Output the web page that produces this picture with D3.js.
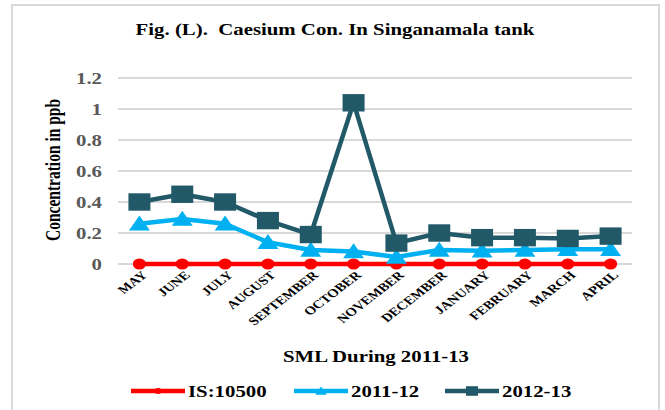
<!DOCTYPE html>
<html>
<head>
<meta charset="utf-8">
<script src="https://cdn.jsdelivr.net/npm/d3@7"></script>
<style>
  body { margin: 0; background: #fff; }
</style>
</head>
<body>
<script>
var months = ["MAY","JUNE","JULY","AUGUST","SEPTEMBER","OCTOBER","NOVEMBER","DECEMBER","JANUARY","FEBRUARY","MARCH","APRIL"];
var is10500 = [0,0,0,0,0,0,0,0,0,0,0,0];
var y2011 = [0.26,0.29,0.26,0.14,0.09,0.08,0.045,0.09,0.085,0.09,0.095,0.095];
var y2012 = [0.40,0.45,0.40,0.28,0.19,1.04,0.135,0.20,0.17,0.17,0.165,0.18];
var yTicks = [0,0.2,0.4,0.6,0.8,1,1.2];

var series = [
  {name: "IS:10500", values: is10500, color: "#ff0000", marker: "circle"},
  {name: "2011-12", values: y2011, color: "#00b0f0", marker: "triangle"},
  {name: "2012-13", values: y2012, color: "#215968", marker: "square"}
];

var serif = "Liberation Serif";
var stretchX = 1.3; // the picture is a little wider than tall
var width = 665, height = 410;
var svg = d3.select("body").append("svg")
  .attr("width", width)
  .attr("height", height);

// widen text horizontally to match
function stretch(sel, k) {
  sel.each(function() {
    var w = this.getComputedTextLength();
    d3.select(this).attr("textLength", w * k).attr("lengthAdjust", "spacingAndGlyphs");
  });
}

// outer frame
svg.append("rect")
  .attr("x", 12).attr("y", 5)
  .attr("width", 647).attr("height", 420)
  .attr("fill", "none")
  .attr("stroke", "#d9d9d9")
  .attr("stroke-width", 2);

var x = d3.scaleBand().domain(months).range([118, 632]);
var y = d3.scaleLinear().domain([0, 1.2]).range([264, 78]);
var cx = function(m) { return x(m) + x.bandwidth() / 2; };

// gridlines
svg.append("g").selectAll("line")
  .data(yTicks)
  .enter().append("line")
  .attr("x1", 118).attr("x2", 632)
  .attr("y1", function(d) { return y(d); })
  .attr("y2", function(d) { return y(d); })
  .attr("stroke", "#d9d9d9")
  .attr("stroke-width", 2);

// y axis labels
var yAxis = d3.axisLeft(y).tickValues(yTicks).tickSize(0).tickPadding(16)
  .tickFormat(function(d) { return String(+d.toFixed(1)); });
var yg = svg.append("g").attr("transform", "translate(118,0)").call(yAxis);
yg.select(".domain").remove();
yg.attr("font-family", serif).attr("font-size", 16).attr("font-weight", "bold");
yg.selectAll("text").attr("fill", "#595959").call(stretch, stretchX);

// x axis labels
var xg = svg.append("g").attr("transform", "translate(0,264)")
  .call(d3.axisBottom(x).tickSize(0).tickPadding(0));
xg.select(".domain").remove();
xg.attr("font-family", serif).attr("font-size", 11.5).attr("font-weight", "bold");
xg.selectAll("text")
  .attr("fill", "#000")
  .attr("text-anchor", "end")
  .attr("dy", "0.35em")
  .attr("y", 0)
  .attr("transform", "translate(5,9) scale(" + stretchX + ",1) rotate(-45)");

var line = d3.line()
  .x(function(d, i) { return cx(months[i]); })
  .y(function(d) { return y(d); });

function drawMarker(g, type, color, px, py, w, h) {
  if (type === "circle") {
    g.append("ellipse").attr("cx", px).attr("cy", py)
      .attr("rx", w * 0.6).attr("ry", h * 0.62).attr("fill", color);
  } else if (type === "triangle") {
    g.append("path")
      .attr("d", "M" + px + "," + (py - h * 0.55) + "L" + (px + w) + "," + (py + h * 0.45) +
        "L" + (px - w) + "," + (py + h * 0.45) + "Z")
      .attr("fill", color);
  } else {
    g.append("rect").attr("x", px - w).attr("y", py - h)
      .attr("width", 2 * w).attr("height", 2 * h).attr("fill", color);
  }
}

var markerSize = {circle: [11, 9], triangle: [10.5, 15], square: [11, 8.7]};

series.forEach(function(s) {
  var g = svg.append("g");
  g.append("path")
    .datum(s.values)
    .attr("d", line)
    .attr("fill", "none")
    .attr("stroke", s.color)
    .attr("stroke-width", 4.5)
    .attr("stroke-linejoin", "round");
  s.values.forEach(function(v, i) {
    var sz = markerSize[s.marker];
    drawMarker(g, s.marker, s.color, cx(months[i]), y(v), sz[0], sz[1]);
  });
});

function label(tx, ty, size, str) {
  return svg.append("text")
    .attr("x", tx).attr("y", ty)
    .attr("text-anchor", "middle")
    .attr("font-family", serif)
    .attr("font-weight", "bold")
    .attr("font-size", size)
    .text(str);
}

// title
label(335, 35, 16, "Fig. (L).\u00a0\u00a0Caesium Con. In Singanamala tank").call(stretch, stretchX);

// y axis title
label(0, 0, 15.5, "Concentration in ppb")
  .attr("transform", "translate(60,170) scale(" + stretchX + ",1) rotate(-90)");

// x axis title
label(376, 362, 16, "SML During 2011-13").call(stretch, stretchX);

// legend
var legendX = [131, 294, 445];
series.forEach(function(s, i) {
  var lg = svg.append("g").attr("transform", "translate(" + legendX[i] + ",391)");
  lg.append("line").attr("x1", 0).attr("x2", 54).attr("y1", 0).attr("y2", 0)
    .attr("stroke", s.color).attr("stroke-width", 4.5);
  var sz = markerSize[s.marker];
  drawMarker(lg, s.marker, s.color, 27, 0, sz[0] * 0.55, sz[1] * 0.55);
  lg.append("text").attr("x", 57).attr("y", 6)
    .attr("font-family", serif)
    .attr("font-weight", "bold")
    .attr("font-size", 16)
    .text(s.name)
    .call(stretch, stretchX);
});
</script>
</body>
</html>
